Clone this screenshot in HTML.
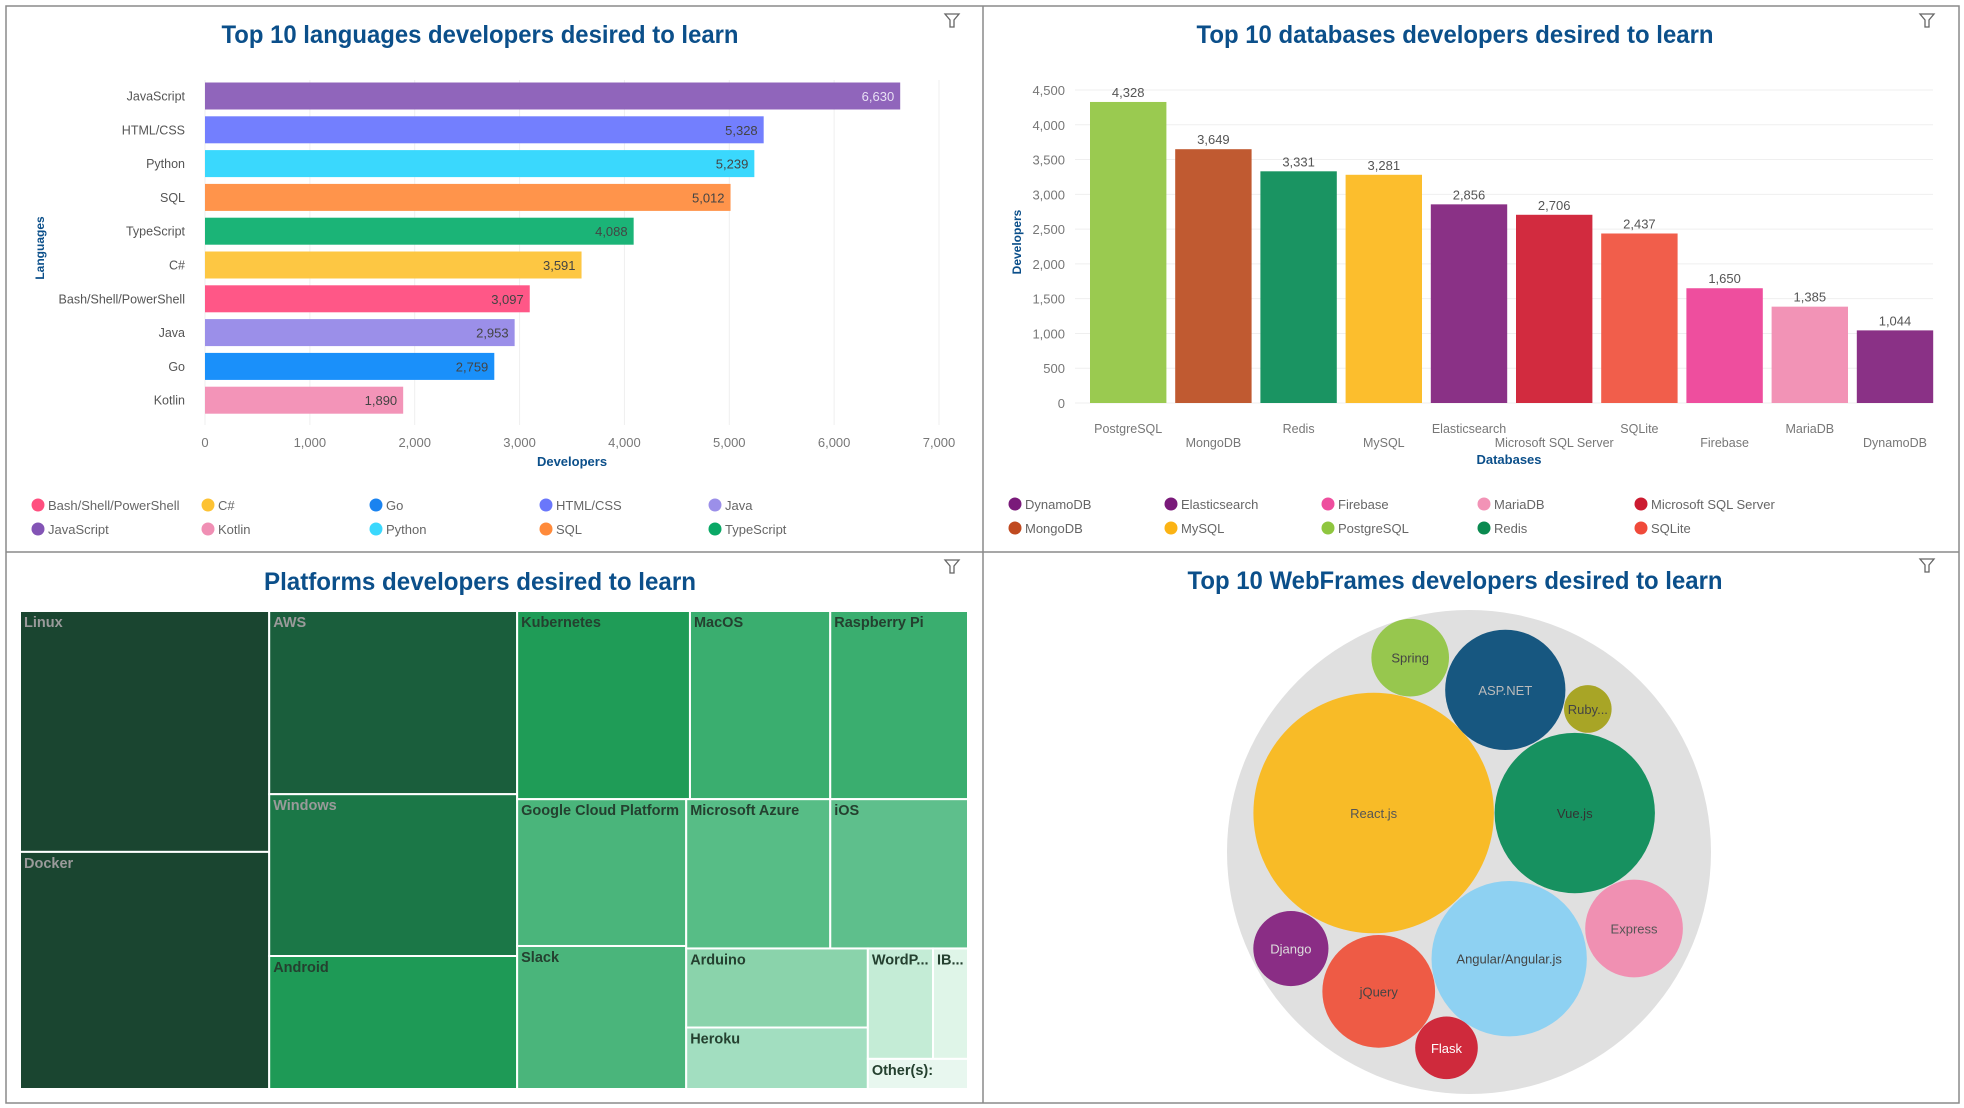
<!DOCTYPE html>
<html><head><meta charset="utf-8"><style>
body{margin:0;background:#fff;}
svg{display:block;font-family:"Liberation Sans",sans-serif;}
</style></head><body>
<svg id="root" width="1964" height="1108" viewBox="0 0 1964 1108" xmlns="http://www.w3.org/2000/svg">
<rect x="0" y="0" width="1964" height="1108" fill="#fff"/>
<g stroke="#8a8a8a" stroke-width="1.5" fill="none">
<rect x="6" y="6" width="1953" height="1097"/>
<line x1="983" y1="6" x2="983" y2="1103"/>
<line x1="6" y1="552" x2="1959" y2="552"/>
</g>
<g fill="#0b4f8a" font-weight="bold" font-size="25" text-anchor="middle">
<text x="480" y="43" textLength="517" lengthAdjust="spacingAndGlyphs">Top 10 languages developers desired to learn</text>
<text x="1455" y="43" textLength="517" lengthAdjust="spacingAndGlyphs">Top 10 databases developers desired to learn</text>
<text x="480" y="590" textLength="432" lengthAdjust="spacingAndGlyphs">Platforms developers desired to learn</text>
<text x="1455" y="589" textLength="535" lengthAdjust="spacingAndGlyphs">Top 10 WebFrames developers desired to learn</text>
</g>
<g id="filters"></g>
<g id="lang"></g>
<g id="db"></g>
<g id="tree"></g>
<g id="bubble"></g>
</svg>
<script>
const NS="http://www.w3.org/2000/svg";
function mk(parent,tag,attrs,text){const e=document.createElementNS(NS,tag);for(const k in attrs)e.setAttribute(k,attrs[k]);if(text!==undefined)e.textContent=text;parent.appendChild(e);return e;}
function fmt(v){return v.toLocaleString('en-US');}

// ---------- Language data ----------
const langCats=["JavaScript","HTML/CSS","Python","SQL","TypeScript","C#","Bash/Shell/PowerShell","Java","Go","Kotlin"];
const langVals=[6630,5328,5239,5012,4088,3591,3097,2953,2759,1890];
const langColors=["#9065bb","#737ffe","#3ad8fd","#ff944b","#1bb477","#fdc743","#ff5787","#9b8fe9","#1a90fa","#f394b8"];
const langTicks=[0,1000,2000,3000,4000,5000,6000,7000];
const langLegend=["Bash/Shell/PowerShell","C#","Go","HTML/CSS","Java","JavaScript","Kotlin","Python","SQL","TypeScript"];
const langLegendColors=["#ff4f7f","#fdc233","#1a83f0","#6a77fb","#9b8fe9","#8354b5","#f08fb4","#3ad8fd","#ff8a3a","#0aa866"];

// ---------- Database data ----------
const dbCats=["PostgreSQL","MongoDB","Redis","MySQL","Elasticsearch","Microsoft SQL Server","SQLite","Firebase","MariaDB","DynamoDB"];
const dbVals=[4328,3649,3331,3281,2856,2706,2437,1650,1385,1044];
const dbColors=["#9aca50","#c05a31","#1a9462","#fcbe2d","#8a3186","#d22b3f","#f15e4b","#ee4e9e","#f293b6","#8a3186"];
const dbTicks=[0,500,1000,1500,2000,2500,3000,3500,4000,4500];
const dbLegend=["DynamoDB","Elasticsearch","Firebase","MariaDB","Microsoft SQL Server","MongoDB","MySQL","PostgreSQL","Redis","SQLite"];
const dbLegendColors=["#7a1a7a","#7a1a7a","#ee4e9e","#f293b6","#cc1b30","#c04a20","#fbb314","#8fc63f","#0a8a50","#f04a3a"];

// ---------- Platform treemap data ----------
const platNames=["Linux","Docker","AWS","Windows","Android","Kubernetes","MacOS","Raspberry Pi","Google Cloud Platform","Slack","Microsoft Azure","iOS","Arduino","Heroku","WordP...","IB...","Other(s):"];
const platVals=[3821,3761,2891,2554,2099,2070,1680,1650,1580,1539,1369,1309,914,711,458,246,192];
const platColors=["#1a4530","#1a4530","#1a5e3c","#1b7747","#1e9a56","#1f9c57","#3aae6f","#3aae6f","#4ab57b","#4ab57b","#57bd86","#5ebf8c","#8ad3ab","#a2dec0","#c4ecd6","#dff5e8","#e8f7ef"];

// ---------- Webframes data ----------
const webNames=["React.js","Vue.js","Angular/Angular.js","ASP.NET","jQuery","Express","Spring","Django","Flask","Ruby..."];
const webVals=[9216,4096,3844,2304,2025,1521,961,900,625,361];
const webColors=["#f8bb27","#179160","#8ed1f2","#175780","#ee5b45","#f090b2","#97c74e","#8a2d85","#cf2a3c","#a8a526"];
const webText=["#555","#333","#444","#bbb","#444","#555","#444","#ddd","#fff","#444"];

// ---------- filter icons ----------
const fg=document.getElementById('filters');
[[952,20],[1927,20],[952,566],[1927,565]].forEach(function(p,i){
  const ic=mk(fg,'path',{d:`M${p[0]-7},${p[1]-6} h14 l-5,6 v7 h-4 v-7 z`,fill:'none',stroke:'#666','stroke-width':1.3});
  
  
});

// ---------- language bar chart ----------
(function(){
  const g=document.getElementById('lang');
  const x0=205,x1=939,maxT=7000;
  const xs=v=>x0+(x1-x0)*v/maxT;
  const y0=96,step=33.8,bh=27;
  langTicks.forEach(function(t){
    const l=mk(g,'line',{x1:xs(t),x2:xs(t),y1:80,y2:425,stroke:'#efefef'});
    
    
    const tx=mk(g,'text',{x:xs(t),y:447,'font-size':13,fill:'#777','text-anchor':'middle'},fmt(t));
    
    
  });
  langCats.forEach(function(c,i){
    const cy=y0+i*step;
    const r=mk(g,'rect',{x:x0,y:cy-bh/2,width:xs(langVals[i])-x0,height:bh,fill:langColors[i]});
    
    
    const lb=mk(g,'text',{x:185,y:cy+4.5,'font-size':12.5,fill:'#555','text-anchor':'end'},c);
    
    
    const vl=mk(g,'text',{x:xs(langVals[i])-6,y:cy+5,'font-size':13,fill:i===0?'#e8e0f4':'#444','text-anchor':'end'},fmt(langVals[i]));
    
    
  });
  const xt=mk(g,'text',{x:572,y:466,'font-size':13,'font-weight':'bold',fill:'#0b4f8a','text-anchor':'middle'},'Developers');
  
  
  const yt=mk(g,'text',{x:0,y:0,'font-size':12,'font-weight':'bold',fill:'#0b4f8a','text-anchor':'middle',transform:'translate(44,248) rotate(-90)'},'Languages');
  
  
  const cols=[38,208,376,546,715],rows=[505,529];
  langLegend.forEach(function(n,i){
    const cx=cols[i%5],cy=rows[Math.floor(i/5)];
    const d=mk(g,'circle',{cx:cx,cy:cy,r:6.5,fill:langLegendColors[i]});
    
    
    const t=mk(g,'text',{x:cx+10,y:cy+5,'font-size':13,fill:'#666'},n);
    
    
  });
})();

// ---------- database column chart ----------
(function(){
  const g=document.getElementById('db');
  const y0=403,yTop=90,maxT=4500;
  const ys=v=>y0-(y0-yTop)*v/maxT;
  const bx0=1090,step=85.2,bw=76.4;
  dbTicks.forEach(function(t){
    const l=mk(g,'line',{x1:1075,x2:1933,y1:ys(t),y2:ys(t),stroke:'#efefef'});
    
    
    const tx=mk(g,'text',{x:1065,y:ys(t)+5,'font-size':13,fill:'#777','text-anchor':'end'},fmt(t));
    
    
  });
  dbCats.forEach(function(c,i){
    const x=bx0+i*step;
    const r=mk(g,'rect',{x:x,y:ys(dbVals[i]),width:bw,height:y0-ys(dbVals[i]),fill:dbColors[i]});
    
    
    const vl=mk(g,'text',{x:x+bw/2,y:ys(dbVals[i])-5,'font-size':13,fill:'#555','text-anchor':'middle'},fmt(dbVals[i]));
    
    
    const cl=mk(g,'text',{x:x+bw/2,y:(i%2===0?433:447),'font-size':12.5,fill:'#777','text-anchor':'middle'},c);
    
    
  });
  const xt=mk(g,'text',{x:1509,y:464,'font-size':13,'font-weight':'bold',fill:'#0b4f8a','text-anchor':'middle'},'Databases');
  
  
  const yt=mk(g,'text',{x:0,y:0,'font-size':12,'font-weight':'bold',fill:'#0b4f8a','text-anchor':'middle',transform:'translate(1021,242) rotate(-90)'},'Developers');
  
  
  const cols=[1015,1171,1328,1484,1641],rows=[504,528];
  dbLegend.forEach(function(n,i){
    const cx=cols[i%5],cy=rows[Math.floor(i/5)];
    const d=mk(g,'circle',{cx:cx,cy:cy,r:6.5,fill:dbLegendColors[i]});
    
    
    const t=mk(g,'text',{x:cx+10,y:cy+5,'font-size':13,fill:'#666'},n);
    
    
  });
})();

// ---------- treemap ----------
(function(){
  const g=document.getElementById('tree');
  // structure: h = split horizontally (side by side), v = stacked vertically
  const tree={d:'h',c:[{d:'v',c:[0,1]},{d:'v',c:[2,3,4]},{d:'v',c:[{d:'h',c:[5,6,7]},{d:'h',c:[{d:'v',c:[8,9]},{d:'v',c:[{d:'h',c:[10,11]},{d:'h',c:[{d:'v',c:[12,13]},{d:'v',c:[{d:'h',c:[14,15]},16]}]}]}]}]}]};
  function sum(n){return typeof n==='number'?platVals[n]:n.c.reduce((a,b)=>a+sum(b),0);}
  function lay(n,x,y,w,h){
    if(typeof n==='number'){
      const r=mk(g,'rect',{x:x,y:y,width:w,height:h,fill:platColors[n],stroke:'#fff','stroke-width':2});
      
      
      const dark=n<5;
      const t=mk(g,'text',{x:x+4,y:y+16,'font-size':14.5,'font-weight':'bold',fill:dark&&n!==4?'#9a9a9a':'#24402f'},platNames[n]);
      
      
      return;
    }
    const tot=sum(n);let off=0;
    n.c.forEach(function(ch){
      const f=sum(ch)/tot;
      if(n.d==='h'){lay(ch,x+off,y,w*f,h);off+=w*f;}
      else{lay(ch,x,y+off,w,h*f);off+=h*f;}
    });
  }
  lay(tree,20,611,948,478);
})();

// ---------- bubble pack ----------
(function(){
  const g=document.getElementById('bubble');
  const cx=1469,cy=852,R=242,k=1.2526;
  const o=mk(g,'circle',{cx:cx,cy:cy,r:R,fill:'#e0e0e0'});
  
  
  // relative placement of each bubble centre in units of container radius
  const placeX=[-0.394,0.437,0.166,0.150,-0.373,0.682,-0.243,-0.736,-0.093,0.491];
  const placeY=[-0.161,-0.161,0.441,-0.670,0.576,0.316,-0.803,0.399,0.809,-0.591];
  webNames.forEach(function(n,i){
    const r=k*Math.sqrt(webVals[i]);
    const px=cx+placeX[i]*R,py=cy+placeY[i]*R;
    const c=mk(g,'circle',{cx:px,cy:py,r:r,fill:webColors[i]});
    
    
    const t=mk(g,'text',{x:px,y:py+5,'font-size':13,fill:webText[i],'text-anchor':'middle'},n);
    
    
  });
})();
</script>
</body></html>
